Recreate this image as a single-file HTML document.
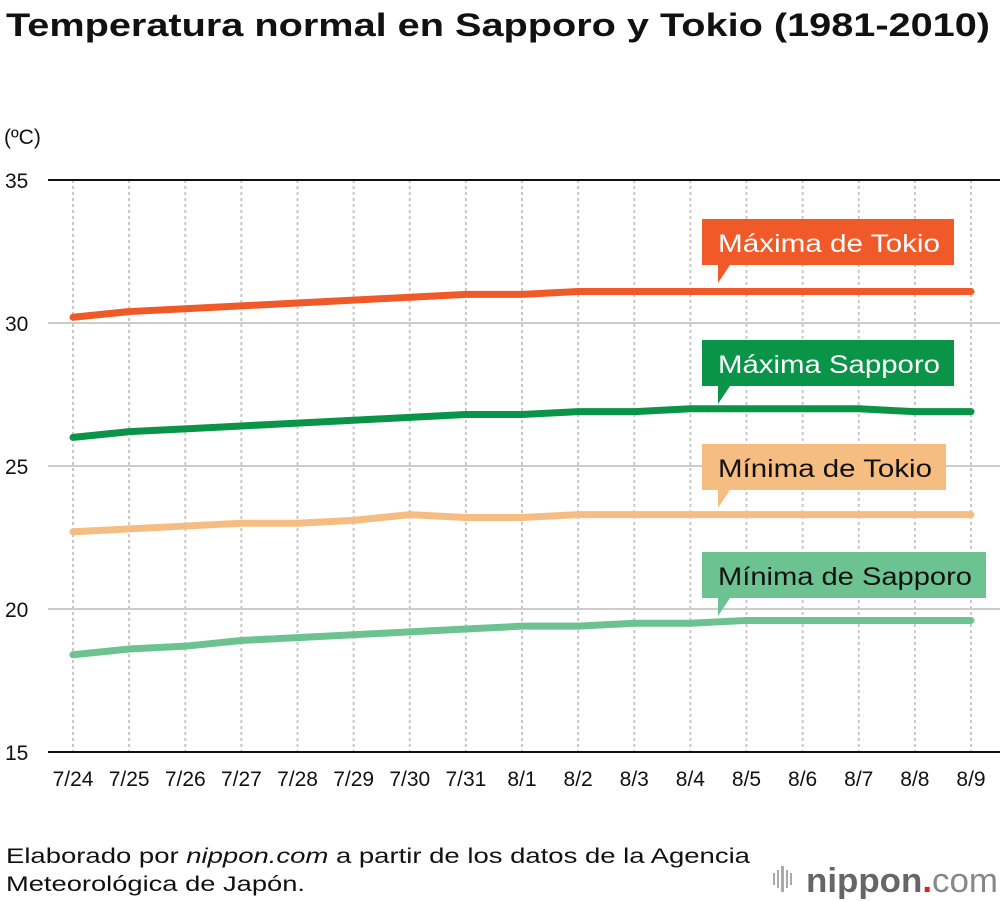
<!DOCTYPE html>
<html><head><meta charset="utf-8"><style>
body{margin:0;background:#fff;font-family:"Liberation Sans",sans-serif;}
svg{display:block}
</style></head><body>
<svg width="1000" height="902" viewBox="0 0 1000 902" id="chart">
<text x="6" y="36" font-size="32" font-weight="bold" fill="#111" textLength="984" lengthAdjust="spacingAndGlyphs">Temperatura normal en Sapporo y Tokio (1981-2010)</text>
<text x="4" y="144" font-size="21" fill="#111">(ºC)</text>
<g id="grid"></g><g id="lines"></g><g id="labels"></g>
<text x="6" y="863" font-size="21" fill="#111" textLength="744" lengthAdjust="spacingAndGlyphs">Elaborado por <tspan font-style="italic">nippon.com</tspan> a partir de los datos de la Agencia</text>
<text x="6" y="891" font-size="21" fill="#111" textLength="299" lengthAdjust="spacingAndGlyphs">Meteorológica de Japón.</text>
<g>
<g fill="#aaa"><rect x="773" y="873" width="2" height="12"/><rect x="777" y="870" width="2" height="18"/><rect x="781" y="866" width="3" height="26"/><rect x="786" y="870" width="2" height="18"/><rect x="790" y="873" width="2" height="12"/></g>
<text x="806" y="892" font-size="34" fill="#666" font-weight="bold" textLength="192" lengthAdjust="spacingAndGlyphs">nippon<tspan fill="#e02020">.</tspan><tspan font-weight="normal" fill="#888">com</tspan></text>
</g>
</svg>
<script>
const categories=["7/24","7/25","7/26","7/27","7/28","7/29","7/30","7/31","8/1","8/2","8/3","8/4","8/5","8/6","8/7","8/8","8/9"];
const yTicks=[15,20,25,30,35];
const tokyoMax=[30.2,30.4,30.5,30.6,30.7,30.8,30.9,31.0,31.0,31.1,31.1,31.1,31.1,31.1,31.1,31.1,31.1];
const sapporoMax=[26.0,26.2,26.3,26.4,26.5,26.6,26.7,26.8,26.8,26.9,26.9,27.0,27.0,27.0,27.0,26.9,26.9];
const tokyoMin=[22.7,22.8,22.9,23.0,23.0,23.1,23.3,23.2,23.2,23.3,23.3,23.3,23.3,23.3,23.3,23.3,23.3];
const sapporoMin=[18.4,18.6,18.7,18.9,19.0,19.1,19.2,19.3,19.4,19.4,19.5,19.5,19.6,19.6,19.6,19.6,19.6];
const seriesNames=["Máxima de Tokio","Máxima Sapporo","Mínima de Tokio","Mínima de Sapporo"];
const NS="http://www.w3.org/2000/svg";
const x=i=>73+i*(971-73)/(categories.length-1);
const y=v=>752-(v-15)*(752-180)/20;
function mk(tag,attrs,parent){const e=document.createElementNS(NS,tag);for(const k in attrs)e.setAttribute(k,attrs[k]);parent.appendChild(e);return e;}
const grid=document.getElementById('grid');
categories.forEach((c,i)=>{
  const l=mk('line',{x1:x(i),x2:x(i),y1:180,y2:752,stroke:'#c8c8c8','stroke-width':2,'stroke-dasharray':'3,3'},grid);
  
  
  const t=mk('text',{x:x(i),y:786,'font-size':21,'text-anchor':'middle',fill:'#111'},grid);
  t.textContent=c;
  
  
});
yTicks.forEach(v=>{
  const edge=(v===15||v===35);
  const l=mk('line',{x1:48,x2:1000,y1:y(v),y2:y(v),stroke:edge?'#111':'#cccccc','stroke-width':2},grid);
  
  
  const t=mk('text',{x:5,y:y(v)+8,'font-size':21,fill:'#111'},grid);
  t.textContent=v;
  
  
});
const series=[[tokyoMax,'#f05a28'],[sapporoMax,'#0a9448'],[tokyoMin,'#f6bd82'],[sapporoMin,'#6cc391']];
const lines=document.getElementById('lines');
series.forEach(([d,col],k)=>{
  const p=mk('polyline',{points:d.map((v,i)=>x(i)+','+y(v)).join(' '),fill:'none',stroke:col,'stroke-width':7,'stroke-linecap':'round','stroke-linejoin':'round'},lines);
  
  
});
const boxes=[[219,252,'#fff',222],[340,252,'#fff',222],[444,244,'#111',214],[552,284,'#111',254]];
const labels=document.getElementById('labels');
boxes.forEach(([top,w,tc,tl],k)=>{
  const g=mk('g',{},labels);
  
  
  const h=46,bx=702,col=series[k][1];
  mk('path',{d:`M${bx} ${top}h${w}v${h}h${-w+28}l-12 18v-18h-16z`,fill:col},g);
  const t=mk('text',{x:bx+16,y:top+33,'font-size':25,fill:tc,textLength:tl,lengthAdjust:'spacingAndGlyphs'},g);
  t.textContent=seriesNames[k];
});
</script>
</body></html>
